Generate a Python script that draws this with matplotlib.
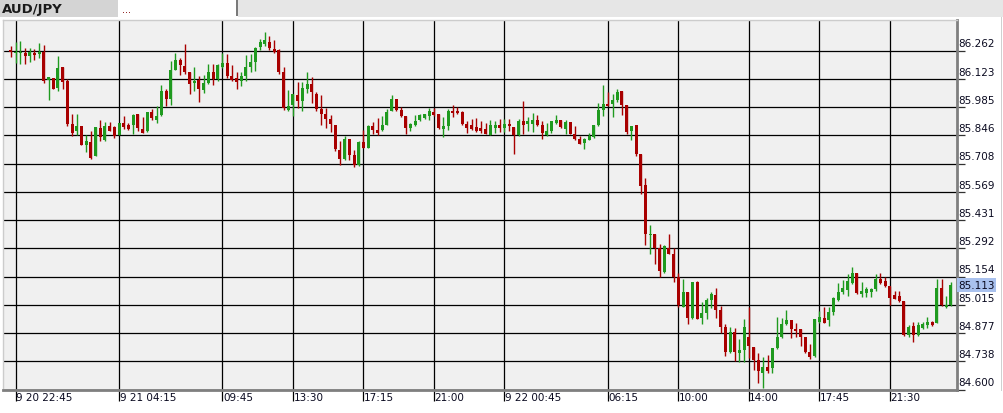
import matplotlib
matplotlib.use("Agg")
import matplotlib.pyplot as plt
from matplotlib.patches import Rectangle

# ---------------- data (AUD/JPY, 15-minute candles) ----------------
symbol = "AUD/JPY"
last_price = 85.113

opens = [86.267, 86.249, 86.249, 86.251, 86.234, 86.251, 86.244, 86.255, 86.119, 86.128,
         86.079, 86.184, 86.112, 85.903, 85.866, 85.890, 85.801, 85.815, 85.743, 85.882,
         85.825, 85.890, 85.885, 85.846, 85.908, 85.898, 85.895, 85.951, 85.879, 85.866,
         85.960, 85.920, 85.947, 86.066, 86.026, 86.169, 86.216, 86.185, 86.159, 86.102,
         86.119, 86.070, 86.102, 86.159, 86.123, 86.180, 86.202, 86.135, 86.127, 86.115,
         86.135, 86.184, 86.208, 86.278, 86.295, 86.306, 86.270, 86.267, 86.159, 85.973,
         85.993, 86.045, 86.017, 86.074, 86.099, 86.050, 85.977, 85.952, 85.928, 85.898,
         85.776, 85.732, 85.830, 85.752, 85.699, 85.814, 85.786, 85.890, 85.874, 85.871,
         85.898, 85.968, 86.026, 85.972, 85.941, 85.882, 85.895, 85.920, 85.933, 85.941,
         85.960, 85.952, 85.876, 85.892, 85.968, 85.964, 85.960, 85.903, 85.895, 85.887,
         85.884, 85.879, 85.850, 85.884, 85.899, 85.884, 85.903, 85.887, 85.850, 85.915,
         85.900, 85.903, 85.920, 85.895, 85.846, 85.866, 85.907, 85.920, 85.879, 85.912,
         85.855, 85.827, 85.809, 85.825, 85.838, 85.895, 85.969, 86.001, 85.998, 86.018,
         86.062, 85.993, 85.866, 85.895, 85.757, 85.602, 85.357, 85.365, 85.295, 85.175,
         85.295, 85.264, 85.150, 85.007, 85.080, 84.953, 85.126, 84.950, 84.974, 85.039,
         85.064, 84.990, 84.905, 84.786, 84.881, 84.781, 84.795, 84.860, 84.811, 84.746,
         84.680, 84.710, 84.708, 84.803, 84.857, 84.922, 84.941, 84.897, 84.897, 84.857,
         84.783, 84.767, 84.933, 84.949, 84.941, 84.979, 85.039, 85.080, 85.088, 85.124,
         85.170, 85.068, 85.075, 85.080, 85.091, 85.140, 85.134, 85.108, 85.064, 85.059,
         85.036, 84.868, 84.912, 84.868, 84.904, 84.917, 84.930, 84.928, 85.096, 85.007,
         85.015]

highs = [86.283, 86.306, 86.311, 86.275, 86.275, 86.270, 86.300, 86.290, 86.132, 86.128,
         86.234, 86.184, 86.123, 85.952, 85.952, 85.890, 85.849, 85.866, 85.885, 85.920,
         85.911, 85.911, 85.890, 85.908, 85.941, 85.908, 85.952, 85.951, 85.936, 85.960,
         85.977, 85.988, 86.091, 86.074, 86.213, 86.251, 86.224, 86.295, 86.159, 86.184,
         86.135, 86.140, 86.197, 86.197, 86.194, 86.251, 86.246, 86.192, 86.159, 86.156,
         86.241, 86.246, 86.278, 86.319, 86.352, 86.335, 86.314, 86.270, 86.180, 86.070,
         86.050, 86.107, 86.107, 86.159, 86.132, 86.061, 86.042, 85.980, 85.947, 85.898,
         85.817, 85.841, 85.830, 85.773, 85.818, 85.871, 85.895, 85.911, 85.931, 85.939,
         85.977, 86.042, 86.026, 85.985, 85.941, 85.908, 85.947, 85.952, 85.952, 85.982,
         85.982, 85.952, 85.936, 85.977, 85.996, 85.985, 85.964, 85.915, 85.928, 85.931,
         85.915, 85.907, 85.923, 85.915, 85.925, 85.925, 85.928, 85.887, 85.925, 86.013,
         85.936, 85.956, 85.948, 85.915, 85.908, 85.915, 85.944, 85.920, 85.920, 85.912,
         85.890, 85.843, 85.833, 85.858, 85.895, 86.006, 86.094, 86.058, 86.050, 86.075,
         86.062, 85.996, 85.890, 85.895, 85.757, 85.639, 85.406, 85.365, 85.316, 85.308,
         85.365, 85.292, 85.170, 85.140, 85.080, 85.126, 85.132, 85.031, 85.047, 85.080,
         85.100, 85.010, 84.922, 84.905, 84.904, 84.848, 84.945, 85.007, 84.811, 84.781,
         84.762, 84.770, 84.806, 84.958, 84.953, 84.990, 84.941, 84.925, 84.897, 84.857,
         84.822, 84.945, 84.987, 85.007, 85.007, 85.052, 85.121, 85.137, 85.165, 85.202,
         85.170, 85.129, 85.104, 85.096, 85.165, 85.170, 85.153, 85.108, 85.083, 85.083,
         85.036, 84.917, 84.933, 84.933, 84.933, 84.958, 84.936, 85.142, 85.142, 85.059,
         85.129]

lows = [86.229, 86.202, 86.197, 86.198, 86.205, 86.218, 86.228, 86.104, 86.021, 86.074,
        86.063, 86.074, 85.892, 85.841, 85.849, 85.801, 85.765, 85.732, 85.743, 85.818,
        85.818, 85.867, 85.835, 85.846, 85.879, 85.874, 85.854, 85.867, 85.858, 85.862,
        85.920, 85.907, 85.939, 85.988, 85.996, 86.169, 86.140, 86.145, 86.050, 86.066,
        86.009, 86.053, 86.099, 86.091, 86.115, 86.176, 86.127, 86.115, 86.074, 86.086,
        86.115, 86.159, 86.164, 86.267, 86.283, 86.267, 86.251, 86.148, 85.973, 85.968,
        85.941, 85.982, 85.968, 86.053, 86.006, 85.964, 85.895, 85.882, 85.862, 85.770,
        85.699, 85.724, 85.724, 85.691, 85.696, 85.786, 85.784, 85.854, 85.849, 85.867,
        85.895, 85.965, 85.968, 85.936, 85.854, 85.866, 85.892, 85.916, 85.928, 85.920,
        85.941, 85.879, 85.838, 85.871, 85.936, 85.952, 85.898, 85.858, 85.874, 85.862,
        85.859, 85.851, 85.850, 85.859, 85.863, 85.863, 85.866, 85.757, 85.843, 85.855,
        85.866, 85.863, 85.890, 85.830, 85.843, 85.859, 85.900, 85.882, 85.855, 85.855,
        85.822, 85.806, 85.778, 85.822, 85.833, 85.892, 85.941, 85.988, 85.936, 86.010,
        85.948, 85.855, 85.825, 85.745, 85.558, 85.308, 85.264, 85.215, 85.153, 85.170,
        85.264, 85.129, 85.007, 85.007, 84.922, 84.946, 84.946, 84.922, 84.946, 84.998,
        84.953, 84.876, 84.765, 84.781, 84.738, 84.733, 84.733, 84.754, 84.697, 84.632,
        84.607, 84.680, 84.680, 84.799, 84.852, 84.917, 84.852, 84.860, 84.816, 84.778,
        84.751, 84.762, 84.928, 84.925, 84.912, 84.966, 85.034, 85.067, 85.060, 85.116,
        85.067, 85.052, 85.052, 85.052, 85.085, 85.116, 85.104, 85.015, 85.042, 85.028,
        84.865, 84.860, 84.835, 84.865, 84.897, 84.904, 84.914, 84.925, 85.011, 85.002,
        85.012]

closes = [86.254, 86.254, 86.254, 86.234, 86.254, 86.238, 86.255, 86.112, 86.132, 86.074,
          86.176, 86.110, 85.903, 85.858, 85.890, 85.801, 85.818, 85.737, 85.885, 85.838,
          85.890, 85.867, 85.841, 85.908, 85.887, 85.879, 85.947, 85.882, 85.858, 85.960,
          85.931, 85.941, 86.063, 86.026, 86.167, 86.216, 86.189, 86.156, 86.099, 86.112,
          86.074, 86.102, 86.159, 86.123, 86.189, 86.202, 86.135, 86.119, 86.107, 86.135,
          86.180, 86.208, 86.275, 86.306, 86.314, 86.273, 86.254, 86.156, 85.982, 85.990,
          86.050, 86.017, 86.078, 86.096, 86.058, 85.977, 85.952, 85.928, 85.900, 85.778,
          85.732, 85.830, 85.752, 85.699, 85.814, 85.786, 85.890, 85.871, 85.858, 85.898,
          85.960, 86.026, 85.972, 85.941, 85.884, 85.903, 85.915, 85.944, 85.952, 85.964,
          85.944, 85.884, 85.890, 85.968, 85.955, 85.955, 85.903, 85.884, 85.876, 85.867,
          85.867, 85.851, 85.895, 85.899, 85.884, 85.903, 85.890, 85.850, 85.915, 85.895,
          85.915, 85.920, 85.895, 85.859, 85.866, 85.915, 85.920, 85.887, 85.912, 85.855,
          85.830, 85.806, 85.827, 85.842, 85.895, 85.972, 85.998, 85.988, 86.021, 86.058,
          85.993, 85.863, 85.890, 85.757, 85.598, 85.365, 85.365, 85.295, 85.181, 85.303,
          85.264, 85.150, 85.015, 85.077, 84.950, 85.126, 84.946, 84.974, 85.039, 85.067,
          84.990, 84.905, 84.786, 84.881, 84.786, 84.795, 84.909, 84.816, 84.746, 84.689,
          84.713, 84.692, 84.803, 84.857, 84.922, 84.941, 84.897, 84.888, 84.857, 84.786,
          84.762, 84.945, 84.954, 84.925, 84.982, 85.047, 85.080, 85.100, 85.132, 85.170,
          85.072, 85.085, 85.091, 85.093, 85.140, 85.121, 85.108, 85.047, 85.044, 85.034,
          84.868, 84.909, 84.868, 84.917, 84.922, 84.933, 84.917, 85.096, 85.015, 85.015,
          85.113]

price_ticks = [84.600, 84.738, 84.877, 85.015, 85.154, 85.292, 85.431,
               85.569, 85.708, 85.846, 85.985, 86.123, 86.262]
time_tick_index = [1, 23, 45, 60, 75, 90, 105, 127, 142, 157, 172, 187]
time_labels = ["9 20 22:45", "9 21 04:15", "09:45", "13:30", "17:15", "21:00",
               "9 22 00:45", "06:15", "10:00", "14:00", "17:45", "21:30"]

# ---------------- figure ----------------
W, H = 1004, 414
fig = plt.figure(figsize=(W / 100, H / 100), dpi=100)
fig.patch.set_facecolor("white")


def px_rect(x0, y0, x1, y1, color):
    fig.add_artist(Rectangle((x0 / W, 1 - y1 / H), (x1 - x0) / W, (y1 - y0) / H,
                             transform=fig.transFigure, facecolor=color,
                             edgecolor="none", zorder=0))


# header tabs
px_rect(0, 0, 118, 18, "#d4d4d4")
px_rect(118, 0, 236, 18, "#ffffff")
px_rect(236, 0, 238, 17, "#7a7a7a")
px_rect(238, 0, W, 18, "#e6e6e6")
# right price panel border
px_rect(1001, 18, 1002, 392, "#d0d0d0")

fig.text(2 / W, 1 - 9.5 / H, symbol, fontsize=9.5, fontweight="bold",
         ha="left", va="center", color="#1a1a1a")
fig.text(122 / W, 1 - 10 / H, "...", fontsize=7, ha="left", va="center",
         color="#800000")

ax = fig.add_axes([3 / W, 1 - 391 / H, 954 / W, 370 / H])
ax.set_facecolor("#f0f0f0")
ax.set_xlim(-1.70, 201.28)
ax.set_ylim(84.598, 86.412)

GREEN = "#1f9a1f"
RED = "#a80000"
n = len(opens)
x = list(range(n))
colors = [GREEN if c >= o else RED for o, c in zip(opens, closes)]
bottoms = [min(o, c) for o, c in zip(opens, closes)]
heights = [max(abs(c - o), 0.005) for o, c in zip(opens, closes)]

ax.vlines(x, lows, highs, colors=colors, linewidth=1.0, zorder=3)
ax.bar(x, heights, bottom=bottoms, width=0.64, color=colors, linewidth=0, zorder=4)

# grid
ax.set_yticks(price_ticks)
ax.set_xticks(time_tick_index)
ax.grid(True, color="black", linewidth=0.9, zorder=1)
ax.set_axisbelow(True)
ax.yaxis.tick_right()
ax.tick_params(axis="y", length=6, width=0.9, color="#333333", labelright=False,
               labelleft=False, direction="out")
ax.tick_params(axis="x", length=8, width=0.9, color="black", labelbottom=False,
               direction="out")

for sp in ("left", "top"):
    ax.spines[sp].set_color("#cccccc")
    ax.spines[sp].set_linewidth(1.0)
for sp in ("right", "bottom"):
    ax.spines[sp].set_color("#7f7f7f")
    ax.spines[sp].set_linewidth(2.0)

# price labels
for p in price_ticks:
    ax.annotate(f"{p:.3f}", xy=(1, p), xycoords=ax.get_yaxis_transform(),
                xytext=(1.0, 3.0), textcoords="offset points", ha="left",
                va="baseline", fontsize=7.5, color="#0a0a20", annotation_clip=False)

# last price marker
ax.annotate(f"{last_price:.3f}", xy=(1, last_price), xycoords=ax.get_yaxis_transform(),
            xytext=(1.0, 0), textcoords="offset points", ha="left", va="center",
            fontsize=7.5, color="#0a0a20", annotation_clip=False,
            bbox=dict(boxstyle="square,pad=0.15", facecolor="#a9c1ee", edgecolor="none"))

# time labels
for idx, lab in zip(time_tick_index, time_labels):
    ax.annotate(lab, xy=(idx, 0), xycoords=ax.get_xaxis_transform(),
                xytext=(0.3, -1.5), textcoords="offset points", ha="left", va="top",
                fontsize=7.5, color="#0a0a20", annotation_clip=False)

fig.savefig("out.png", dpi=100, facecolor="white")
